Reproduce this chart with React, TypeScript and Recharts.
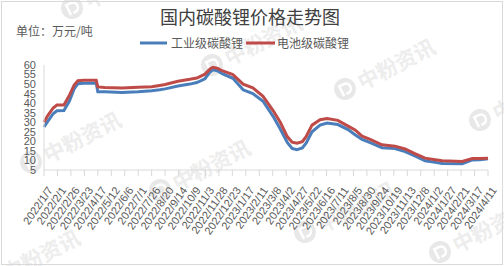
import { LineChart, Line, XAxis, YAxis, Legend } from 'recharts'

const dates = [
  '2022/1/7', '2022/1/14', '2022/1/24', '2022/1/31', '2022/2/13', '2022/2/23', '2022/3/4', '2022/3/11',
  '2022/3/22', '2022/4/14', '2022/4/17', '2022/4/30', '2022/6/1', '2022/7/1', '2022/7/26', '2022/8/10',
  '2022/8/20', '2022/9/13', '2022/10/5', '2022/10/18', '2022/11/2', '2022/11/12', '2022/11/17', '2022/11/25',
  '2022/12/4', '2022/12/24', '2023/1/12', '2023/1/30', '2023/2/18', '2023/3/9', '2023/3/22', '2023/4/4',
  '2023/4/13', '2023/4/22', '2023/5/2', '2023/5/9', '2023/5/20', '2023/6/4', '2023/6/17', '2023/7/7',
  '2023/7/26', '2023/8/8', '2023/8/21', '2023/9/5', '2023/9/27', '2023/10/21', '2023/11/9', '2023/11/28',
  '2023/12/16', '2024/1/4', '2024/1/17', '2024/2/23', '2024/3/13', '2024/3/27', '2024/4/11',
]

// 工业级碳酸锂 (万元/吨)
const industrial = [
  27.5, 30.5, 34.5, 36, 36.2, 41, 47.5, 50.2,
  50.5, 50.5, 46, 46, 45.6, 46, 46.5, 47,
  47.5, 49, 50, 50.8, 52.8, 56.5, 57.5, 57,
  55.5, 53, 47, 45, 41, 33, 26.5, 19.5,
  16.3, 15.6, 16.5, 19, 25, 28.5, 29.6, 28.8,
  26.2, 23.5, 21, 19.3, 16.7, 16.2, 14.6, 12.2,
  9.8, 9, 8.4, 8.3, 10.3, 10.4, 10.9,
]

// 电池级碳酸锂 (万元/吨)
const battery = [
  30, 33.5, 37.5, 39, 39, 44, 49.5, 51.8,
  52, 52, 48.5, 48.2, 48, 48.3, 48.6, 49.3,
  49.8, 51.5, 52.5, 53.2, 55.2, 58, 58.8, 58.3,
  57, 55, 50, 48, 43.6, 36, 30, 22.5,
  19.6, 19, 19.8, 22.5, 28.5, 31.3, 32, 31,
  28, 26, 22.7, 21, 18.2, 17.5, 16, 13.5,
  11.2, 10.4, 9.8, 9.5, 11, 11, 11.2,
]

const tickLabels = [
  '2022/1/7', '2022/2/1', '2022/2/26', '2022/3/23', '2022/4/17', '2022/5/12', '2022/6/6', '2022/7/1',
  '2022/7/26', '2022/8/20', '2022/9/14', '2022/10/9', '2022/11/3', '2022/11/28', '2022/12/23', '2023/1/17',
  '2023/2/11', '2023/3/8', '2023/4/2', '2023/4/27', '2023/5/22', '2023/6/16', '2023/7/11', '2023/8/5',
  '2023/8/30', '2023/9/24', '2023/10/19', '2023/11/13', '2023/12/8', '2024/1/2', '2024/1/27', '2024/2/21',
  '2024/3/17', '2024/4/11',
]

const yTicks = [5, 10, 15, 20, 25, 30, 35, 40, 45, 50, 55, 60]

const toDay = (s: string) => {
  const [y, m, d] = s.split('/').map(Number)
  return Date.UTC(y, m - 1, d) / 86400000
}

const data = dates.map((d, i) => ({ t: toDay(d), industrial: industrial[i], battery: battery[i] }))
const xTicks = tickLabels.map(toDay)
const labelByDay: Record<number, string> = {}
tickLabels.forEach((l) => (labelByDay[toDay(l)] = l))

const BLUE = '#4A7EBB'
const RED = '#BE4B48'
const TEXT = '#595959'
const FONT = '"Liberation Sans", "Noto Sans CJK SC", sans-serif'
const CJK = '"Noto Sans CJK SC", sans-serif'

const XTick = ({ x, y, payload }: any) => {
  const ax = x + 6
  const ay = y + 10
  return (
    <text
      x={ax}
      y={ay}
      transform={`rotate(-55 ${ax} ${ay})`}
      textAnchor="end"
      dominantBaseline="central"
      fontSize={11}
      fontFamily={FONT}
      fill={TEXT}
    >
      {labelByDay[payload.value]}
    </text>
  )
}

const LegendContent = () => (
  <div style={{ display: 'flex', alignItems: 'center', paddingLeft: 140, height: 14, fontFamily: CJK, fontSize: 12, color: TEXT }}>
    <svg width={27} height={4}><line x1={0} y1={2} x2={27} y2={2} stroke={BLUE} strokeWidth={3} /></svg>
    <span style={{ marginLeft: 4, lineHeight: '14px' }}>工业级碳酸锂</span>
    <svg width={29} height={4} style={{ marginLeft: 3 }}><line x1={0} y1={2} x2={29} y2={2} stroke={RED} strokeWidth={3} /></svg>
    <span style={{ marginLeft: 2, lineHeight: '14px' }}>电池级碳酸锂</span>
  </div>
)

// faint "中粉资讯" watermarks
const marks = [
  [72, 8], [212, 65], [345, 89], [480, 120], [31, 162], [160, 190], [305, 232], [440, 252], [-10, 280],
]

const Watermarks = () => (
  <svg width={504} height={266} style={{ position: 'absolute', left: 0, top: 0 }}>
    {marks.map(([cx, cy], i) => (
      <g key={i} transform={`rotate(-27 ${cx} ${cy})`}>
        <circle cx={cx} cy={cy} r={11} fill="#e8e8e8" />
        <path
          d={`M${cx - 4} ${cy + 6} L${cx - 4} ${cy - 5} L${cx + 1} ${cy - 5} A5 5 0 0 1 ${cx + 1} ${cy + 5} L${cx - 1} ${cy + 5}`}
          fill="none"
          stroke="#ffffff"
          strokeWidth={2.5}
        />
        <text x={cx + 15} y={cy} dominantBaseline="central" fontSize={21} fontWeight="bold" fontFamily={CJK} fill="#ededed">
          中粉资讯
        </text>
      </g>
    ))}
  </svg>
)

export default function App() {
  return (
    <div style={{ position: 'absolute', left: 0, top: 0, width: 504, height: 266, background: '#fff', overflow: 'hidden' }}>
      <Watermarks />
      <div style={{ position: 'absolute', left: 0, top: 4, width: 500, textAlign: 'center', fontFamily: CJK, fontSize: 18, lineHeight: '24px', color: '#404040' }}>
        国内碳酸锂价格走势图
      </div>
      <div style={{ position: 'absolute', left: 16, top: 23, fontFamily: CJK, fontSize: 12, lineHeight: '16px', color: TEXT }}>
        单位：万元/吨
      </div>
      <div style={{ position: 'absolute', left: 0, top: 0 }}>
        <LineChart width={504} height={266} data={data} margin={{ top: 51, right: 16, bottom: 16, left: 0 }}>
          <XAxis
            dataKey="t"
            type="number"
            domain={[xTicks[0], xTicks[xTicks.length - 1]]}
            ticks={xTicks}
            interval={0}
            height={80}
            tick={<XTick />}
            axisLine={{ stroke: '#d9d9d9' }}
            tickLine={{ stroke: '#d9d9d9' }}
            tickSize={6}
          />
          <YAxis
            domain={[5, 60]}
            ticks={yTicks}
            interval={0}
            width={44}
            tick={{ fontSize: 11, fill: TEXT, fontFamily: FONT }}
            axisLine={{ stroke: '#d9d9d9' }}
            tickLine={false}
          />
          <Legend verticalAlign="top" content={<LegendContent />} wrapperStyle={{ top: 36, left: 0, height: 14, width: 504 }} />
          <Line dataKey="industrial" name="工业级碳酸锂" stroke={BLUE} strokeWidth={3} dot={false} isAnimationActive={false} />
          <Line dataKey="battery" name="电池级碳酸锂" stroke={RED} strokeWidth={3} dot={false} isAnimationActive={false} />
        </LineChart>
      </div>
      <div style={{ position: 'absolute', left: 1, top: 1, width: 502, height: 264, border: '1px solid #d9d9d9', boxSizing: 'border-box', pointerEvents: 'none' }} />
    </div>
  )
}
